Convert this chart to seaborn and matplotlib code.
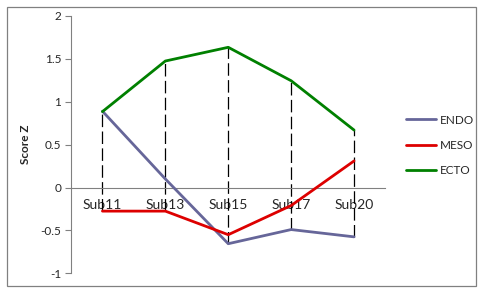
import matplotlib
matplotlib.use("Agg")
import matplotlib.pyplot as plt
import seaborn as sns
import pandas as pd
import numpy as np
from matplotlib.patches import Rectangle
from matplotlib.lines import Line2D

categories = ["Sub11", "Sub13", "Sub15", "Sub17", "Sub20"]
endo = [0.89, 0.10, -0.655, -0.49, -0.575]
meso = [-0.275, -0.275, -0.55, -0.21, 0.31]
ecto = [0.885, 1.475, 1.635, 1.245, 0.67]
series_names = ["ENDO", "MESO", "ECTO"]
colors = ["#666699", "#DD0000", "#008000"]
yticks = [-1, -0.5, 0, 0.5, 1, 1.5, 2]
ytick_labels = ["-1", "-0.5", "0", "0.5", "1", "1.5", "2"]

sns.set_style("white")
plt.rcParams["font.family"] = ["Lato", "DejaVu Sans"]

df = pd.DataFrame({
    "cat": categories * 3,
    "val": endo + meso + ecto,
    "series": [s for s in series_names for _ in categories],
})

W, H = 481, 290
fig = plt.figure(figsize=(W / 100, H / 100), dpi=100)
ax = fig.add_axes([71 / W, 1 - 273.3 / H, (385.5 - 71) / W, (273.3 - 16) / H])

# high-low lines
data = np.array([endo, meso, ecto])
xs = np.arange(len(categories))
ax.vlines(xs, data.min(axis=0), data.max(axis=0), colors="black",
          linestyles=(0, (10, 3.5)), linewidth=0.9, zorder=2)

sns.lineplot(data=df, x="cat", y="val", hue="series", palette=colors,
             hue_order=series_names, sort=False, linewidth=2.0, ax=ax,
             legend=False, zorder=3)

ax.set_xlim(-0.5, len(categories) - 0.5)
ax.set_ylim(-1, 2)
ax.set_yticks(yticks)
ax.set_yticklabels(ytick_labels, fontsize=8.5)
ax.set_xticks(xs)
ax.set_xticklabels(categories, fontsize=8.5)
ax.tick_params(axis="x", length=0, pad=8.5)
ax.tick_params(axis="y", length=4, width=0.8, color="#808080", direction="out", pad=3, left=True)
ax.set_xlabel("")
ax.set_ylabel("Score Z", fontsize=8.5, fontweight="bold", labelpad=7)

for s in ["top", "right"]:
    ax.spines[s].set_visible(False)
ax.spines["left"].set_color("#808080")
ax.spines["left"].set_linewidth(0.8)
ax.spines["bottom"].set_position(("data", 0))
ax.spines["bottom"].set_color("#808080")
ax.spines["bottom"].set_linewidth(0.8)

# legend
handles = [Line2D([0], [0], color=c, linewidth=2.0) for c in colors]
leg = fig.legend(handles, series_names, loc="upper left",
                 bbox_to_anchor=(395 / W, 1 - 104 / H), frameon=False,
                 fontsize=8.5, handlelength=2.6, handletextpad=0.3,
                 labelspacing=1.2)

# outer border
fig.patches.append(Rectangle((6.5 / W, 1 - 285.5 / H), (476 - 6.5) / W, (285.5 - 6.5) / H,
                             transform=fig.transFigure, fill=False,
                             edgecolor="#808080", linewidth=0.9))

fig.savefig("out.png", dpi=100)
